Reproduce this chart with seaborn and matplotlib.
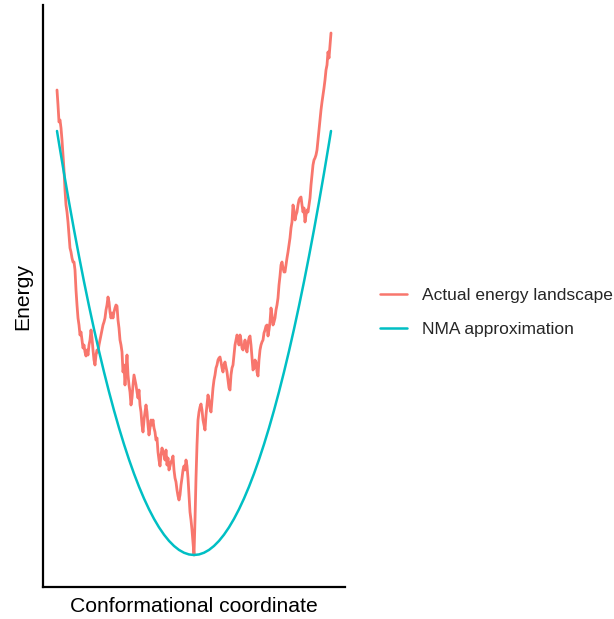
import numpy as np
import pandas as pd
import matplotlib
matplotlib.use("Agg")
import matplotlib.pyplot as plt
import seaborn as sns

# Energy along the sampled conformational path (arbitrary units)
landscape_energy = [
    46.5, 45.0, 43.3, 43.5, 42.7, 41.5, 40.0, 38.5, 36.5, 35.0,
    34.3, 33.3, 32.0, 30.7, 30.3, 29.7, 29.3, 29.3, 28.5, 26.5,
    25.0, 23.7, 23.0, 22.0, 22.3, 21.5, 20.7, 21.0, 20.3, 19.9,
    20.5, 20.0, 21.0, 21.5, 22.5, 21.7, 20.5, 19.5, 19.0, 20.0,
    20.5, 20.3, 21.0, 21.5, 22.0, 22.5, 23.0, 23.3, 23.7, 24.5,
    25.0, 25.8, 25.3, 24.3, 23.7, 24.2, 23.7, 24.3, 24.7, 25.0,
    24.9, 23.5, 22.7, 21.5, 21.0, 20.3, 18.3, 19.0, 17.0, 18.5,
    20.0, 18.0, 17.0, 16.3, 15.0, 15.7, 17.0, 18.0, 17.5, 17.0,
    16.3, 15.7, 16.5, 15.0, 14.3, 13.0, 12.3, 13.5, 14.3, 15.0,
    14.3, 13.0, 12.0, 12.7, 13.5, 13.0, 13.5, 12.7, 12.3, 11.5,
    11.7, 10.3, 9.5, 8.9, 10.0, 10.7, 10.3, 10.0, 9.5, 10.5,
    9.0, 9.7, 8.5, 8.9, 9.3, 9.5, 9.9, 8.5, 7.7, 7.3,
    6.5, 5.9, 5.5, 6.0, 7.0, 7.7, 8.5, 8.9, 8.5, 9.5,
    8.9, 7.7, 6.0, 4.3, 3.5, 2.5, 1.3, 0.0, 3.5, 7.7,
    11.0, 13.5, 14.3, 14.8, 15.1, 14.5, 13.5, 13.0, 12.5, 14.0,
    15.0, 16.0, 15.5, 14.7, 14.3, 15.5, 16.7, 17.5, 18.0, 18.7,
    19.0, 19.5, 19.7, 19.8, 19.3, 18.7, 18.3, 19.0, 19.3, 18.8,
    18.3, 17.5, 16.7, 16.5, 18.0, 18.7, 19.0, 20.0, 21.0, 21.5,
    22.0, 21.7, 21.0, 22.0, 21.5, 20.7, 20.5, 20.9, 21.5, 20.7,
    20.3, 21.2, 21.7, 21.9, 21.0, 19.7, 18.5, 18.7, 19.5, 19.3,
    18.3, 17.9, 19.5, 20.5, 21.0, 21.3, 21.5, 22.2, 22.5, 22.9,
    23.0, 21.9, 22.5, 23.3, 24.7, 24.0, 23.0, 23.3, 23.7, 24.5,
    25.0, 25.7, 27.0, 27.9, 29.0, 29.3, 28.7, 28.3, 28.3, 29.0,
    29.7, 30.3, 31.0, 31.7, 32.7, 33.3, 35.0, 34.5, 33.5, 34.0,
    34.3, 35.0, 35.5, 35.7, 35.8, 35.0, 34.3, 34.7, 33.3, 34.0,
    34.5, 34.3, 35.0, 35.7, 37.0, 38.0, 39.0, 39.5, 39.7, 40.0,
    40.5, 41.5, 42.5, 43.5, 44.5, 45.3, 46.0, 46.7, 47.5, 48.5,
    49.0, 50.3, 49.7, 51.0, 52.2,
]
# Path is sampled on an evenly spaced coordinate grid
landscape_coordinate = np.round(np.linspace(-13.7, 13.7, len(landscape_energy)), 3)

# Harmonic (normal mode) approximation around the minimum
nma_coordinate = [
    -13.7, -13.5, -13.0, -12.5, -12.0, -11.5, -11.0, -10.5, -10.0, -9.5,
    -9.0, -8.5, -8.0, -7.5, -7.0, -6.5, -6.0, -5.5, -5.0, -4.5,
    -4.0, -3.5, -3.0, -2.5, -2.0, -1.5, -1.0, -0.5, 0.0, 0.5,
    1.0, 1.5, 2.0, 2.5, 3.0, 3.5, 4.0, 4.5, 5.0, 5.5,
    6.0, 6.5, 7.0, 7.5, 8.0, 8.5, 9.0, 9.5, 10.0, 10.5,
    11.0, 11.5, 12.0, 12.5, 13.0, 13.5, 13.7,
]
nma_energy = [
    42.401, 41.172, 38.179, 35.298, 32.531, 29.877, 27.335, 24.907, 22.591, 20.388,
    18.299, 16.322, 14.458, 12.707, 11.070, 9.545, 8.133, 6.834, 5.648, 4.575,
    3.615, 2.767, 2.033, 1.412, 0.904, 0.508, 0.226, 0.056, 0.000, 0.056,
    0.226, 0.508, 0.904, 1.412, 2.033, 2.767, 3.615, 4.575, 5.648, 6.834,
    8.133, 9.545, 11.070, 12.707, 14.458, 16.322, 18.299, 20.388, 22.591, 24.907,
    27.335, 29.877, 32.531, 35.298, 38.179, 41.172, 42.401,
]

series_names = ["Actual energy landscape", "NMA approximation"]
series_colors = ["#F8766D", "#00BFC4"]

df = pd.concat([
    pd.DataFrame({"coordinate": landscape_coordinate, "energy": landscape_energy,
                  "series": series_names[0]}),
    pd.DataFrame({"coordinate": nma_coordinate, "energy": nma_energy,
                  "series": series_names[1]}),
], ignore_index=True)

sns.set_theme(style="white")
plt.rcParams["font.family"] = ["Liberation Sans", "DejaVu Sans"]

W, H = 614, 619
fig = plt.figure(figsize=(W / 100, H / 100), dpi=100)
ax = fig.add_axes([43 / W, 32 / H, 302 / W, 582 / H])

sns.lineplot(data=df, x="coordinate", y="energy", hue="series",
             hue_order=series_names, palette=series_colors,
             estimator=None, sort=False, linewidth=1.8, ax=ax)
# the sampled path reads slightly heavier than the smooth fit
ax.get_lines()[0].set_linewidth(2.0)

ax.set_xlim(-15.1, 15.1)
ax.set_ylim(-3.2, 55.0)
ax.set_xticks([])
ax.set_yticks([])
for side in ("top", "right"):
    ax.spines[side].set_visible(False)
for side in ("left", "bottom"):
    ax.spines[side].set_color("black")
    ax.spines[side].set_linewidth(1.6)

ax.set_xlabel("Conformational coordinate", fontsize=15.2, color="black", labelpad=7)
ax.set_ylabel("Energy", fontsize=15.2, color="black", labelpad=8)

handles, labels = ax.get_legend_handles_labels()
ax.legend(handles, labels, loc="center left", bbox_to_anchor=(380 / W, 1 - 312.5 / H),
          bbox_transform=fig.transFigure, frameon=False, fontsize=12.5,
          handlelength=1.55, handletextpad=0.85, labelspacing=1.1,
          borderpad=0, borderaxespad=0)
for line in ax.get_legend().get_lines():
    line.set_linewidth(1.8)

fig.savefig("out.png", dpi=100)
